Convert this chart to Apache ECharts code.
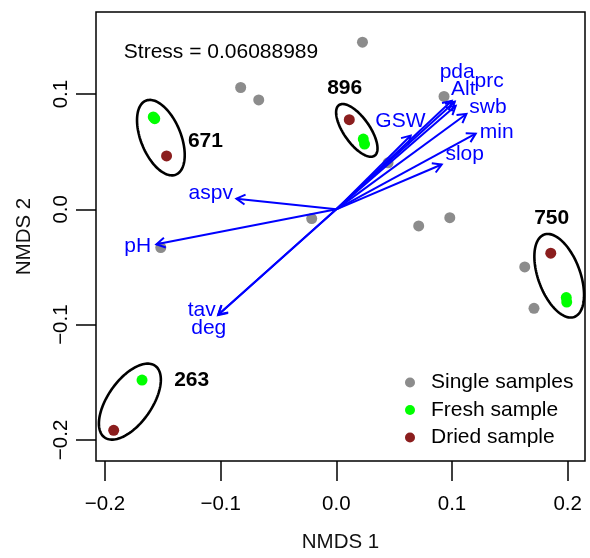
<!DOCTYPE html>
<html>
<head>
<meta charset="utf-8">
<script src="https://cdn.jsdelivr.net/npm/echarts@6/dist/echarts.min.js"></script>
<style>
html,body{margin:0;padding:0;background:#fff;}
#chart{width:590px;height:558px;}
</style>
</head>
<body>
<div id="chart"></div>
<script>
// ---- data ----
const axisTicks = [-0.2, -0.1, 0.0, 0.1, 0.2];

const singleX = [0.0226, -0.0827, -0.0671, -0.0213, -0.1518, 0.0931, 0.0447, 0.0712, 0.0981, 0.1629, 0.1709];
const singleY = [0.1450, 0.1057, 0.0949, -0.0080, -0.0331, 0.0980, 0.0404, -0.0144, -0.0072, -0.0499, -0.0859];

const freshX = [-0.1583, -0.1570, 0.0233, 0.0244, 0.1988, 0.1992, -0.1680];
const freshY = [0.0802, 0.0787, 0.0610, 0.0566, -0.0765, -0.0804, -0.1481];

const driedX = [-0.1468, 0.0112, 0.1854, -0.1925];
const driedY = [0.0463, 0.0778, -0.0380, -0.1917];

const groupNames = ['671', '896', '750', '263'];
const groupLabelX = [-0.1132, 0.0072, 0.1862, -0.1251];
const groupLabelY = [0.0595, 0.1052, -0.0078, -0.1481];

const ellipseCX = [-0.1517, 0.0177, 0.1927, -0.1785];
const ellipseCY = [0.0622, 0.0685, -0.0576, -0.1668];
const ellipseA = [0.0346, 0.0268, 0.0380, 0.0380];
const ellipseB = [0.0173, 0.0112, 0.0182, 0.0190];
const ellipseAngle = [112, 125, 110, 55];

const envNames = ['aspv', 'pH', 'tav', 'deg', 'GSW', 'pda', 'Alt', 'prc', 'swb', 'min', 'slop'];
const envX = [-0.0864, -0.1556, -0.1023, -0.1019, 0.0643, 0.0998, 0.1024, 0.1032, 0.1125, 0.1205, 0.0911];
const envY = [0.0093, -0.0303, -0.0917, -0.0912, 0.0640, 0.0942, 0.0934, 0.0899, 0.0827, 0.0657, 0.0389];
const envLabelX = [-0.1086, -0.1717, -0.1164, -0.1103, 0.0554, 0.1045, 0.1097, 0.1321, 0.1311, 0.1387, 0.1110];
const envLabelY = [0.0138, -0.0320, -0.0873, -0.1029, 0.0764, 0.1193, 0.1046, 0.1109, 0.0886, 0.0668, 0.0476];

const stressText = 'Stress = 0.06088989';
const stressX = -0.0997, stressY = 0.1366;

// ---- chart ----
const FONT = '"Liberation Sans", Arial, Helvetica, sans-serif';
const zip = (a, b) => a.map((v, i) => [v, b[i]]);
const fmt = v => {
  const s = Math.abs(v) < 1e-9 ? '0.0' : v.toFixed(1);
  return s.replace('-', '\u2212');
};

const chart = echarts.init(document.getElementById('chart'), null, {renderer: 'canvas'});

const option = {
  animation: false,
  backgroundColor: '#ffffff',
  grid: {left: 96, right: 5, top: 12, bottom: 96, show: true, borderColor: '#000', borderWidth: 1.5, backgroundColor: 'transparent'},
  xAxis: {
    type: 'value', min: -0.2078, max: 0.2150,
    name: 'NMDS 1', nameLocation: 'middle', nameGap: 71,
    nameTextStyle: {fontSize: 20.5, color: '#111', fontFamily: FONT},
    axisLine: {show: false, onZero: false},
    splitLine: {show: false},
    axisTick: {show: true, inside: false, customValues: axisTicks, length: 20, lineStyle: {color: '#000', width: 1.5}},
    axisLabel: {customValues: axisTicks, formatter: fmt, margin: 33, fontSize: 20.5, color: '#000', fontFamily: FONT}
  },
  yAxis: {
    type: 'value', min: -0.2183, max: 0.1712,
    name: 'NMDS 2', nameLocation: 'middle', nameGap: 61,
    nameTextStyle: {fontSize: 20.5, color: '#111', fontFamily: FONT},
    axisLine: {show: false, onZero: false},
    splitLine: {show: false},
    axisTick: {show: true, inside: false, customValues: axisTicks, length: 20, lineStyle: {color: '#000', width: 1.5}},
    axisLabel: {customValues: axisTicks, formatter: fmt, margin: 24, rotate: 90, fontSize: 20.5, color: '#000', fontFamily: FONT}
  },
  legend: {
    orient: 'vertical', left: 405, top: 372, padding: 0,
    itemWidth: 32, itemHeight: 10, itemGap: 6.5,
    selectedMode: false,
    textStyle: {fontSize: 21, color: '#000', fontFamily: FONT, lineHeight: 21},
    data: [
      {name: 'Single samples', icon: 'circle'},
      {name: 'Fresh sample', icon: 'circle'},
      {name: 'Dried sample', icon: 'circle'}
    ]
  },
  series: [
    {name: 'Single samples', type: 'scatter', data: zip(singleX, singleY), symbolSize: 11,
     itemStyle: {color: '#8C8C8C', opacity: 1}, emphasis: {disabled: true}, z: 2},
    {name: 'Fresh sample', type: 'scatter', data: zip(freshX, freshY), symbolSize: 11,
     itemStyle: {color: '#00FF00', opacity: 1}, emphasis: {disabled: true}, z: 2},
    {name: 'Dried sample', type: 'scatter', data: zip(driedX, driedY), symbolSize: 11,
     itemStyle: {color: '#8B1E1E', opacity: 1}, emphasis: {disabled: true}, z: 2},
    {
      name: 'ellipses', type: 'custom', z: 3, silent: true,
      data: ellipseCX.map((cx, i) => [cx, ellipseCY[i], ellipseA[i], ellipseB[i], ellipseAngle[i]]),
      encode: {x: 0, y: 1},
      renderItem: (params, api) => {
        const cx = api.value(0), cy = api.value(1), a = api.value(2), b = api.value(3);
        const phi = api.value(4) * Math.PI / 180;
        const pts = [];
        for (let k = 0; k < 120; k++) {
          const t = 2 * Math.PI * k / 120;
          const dx = a * Math.cos(t), dy = b * Math.sin(t);
          pts.push(api.coord([cx + dx * Math.cos(phi) - dy * Math.sin(phi), cy + dx * Math.sin(phi) + dy * Math.cos(phi)]));
        }
        return {type: 'polygon', shape: {points: pts}, style: {fill: 'transparent', stroke: '#000', lineWidth: 2.6}};
      }
    },
    {
      name: 'arrows', type: 'custom', z: 4, silent: true,
      data: zip(envX, envY),
      renderItem: (params, api) => {
        const o = api.coord([0, 0]);
        const t = api.coord([api.value(0), api.value(1)]);
        const ang = Math.atan2(t[1] - o[1], t[0] - o[0]);
        const L = 10, sp = 30 * Math.PI / 180;
        const a1 = [t[0] - L * Math.cos(ang - sp), t[1] - L * Math.sin(ang - sp)];
        const a2 = [t[0] - L * Math.cos(ang + sp), t[1] - L * Math.sin(ang + sp)];
        const st = {stroke: '#0000FF', lineWidth: 2, fill: 'transparent'};
        return {type: 'group', children: [
          {type: 'line', shape: {x1: o[0], y1: o[1], x2: t[0], y2: t[1]}, style: st},
          {type: 'polyline', shape: {points: [a1, t, a2]}, style: st}
        ]};
      }
    },
    {
      name: 'envLabels', type: 'custom', z: 5, silent: true,
      data: zip(envLabelX, envLabelY),
      renderItem: (params, api) => {
        const p = api.coord([api.value(0), api.value(1)]);
        return {type: 'text', x: p[0], y: p[1], style: {text: envNames[params.dataIndex], fill: '#0000FF',
          fontSize: 21, fontFamily: FONT, align: 'center', verticalAlign: 'middle'}};
      }
    },
    {
      name: 'groupLabels', type: 'custom', z: 5, silent: true,
      data: zip(groupLabelX, groupLabelY),
      renderItem: (params, api) => {
        const p = api.coord([api.value(0), api.value(1)]);
        return {type: 'text', x: p[0], y: p[1], style: {text: groupNames[params.dataIndex], fill: '#000',
          fontSize: 21, fontWeight: 'bold', fontFamily: FONT, align: 'center', verticalAlign: 'middle'}};
      }
    },
    {
      name: 'stress', type: 'custom', z: 5, silent: true,
      data: [[stressX, stressY]],
      renderItem: (params, api) => {
        const p = api.coord([api.value(0), api.value(1)]);
        return {type: 'text', x: p[0], y: p[1], style: {text: stressText, fill: '#000',
          fontSize: 21, fontFamily: FONT, align: 'center', verticalAlign: 'middle'}};
      }
    }
  ]
};
chart.setOption(option);
</script>
</body>
</html>
